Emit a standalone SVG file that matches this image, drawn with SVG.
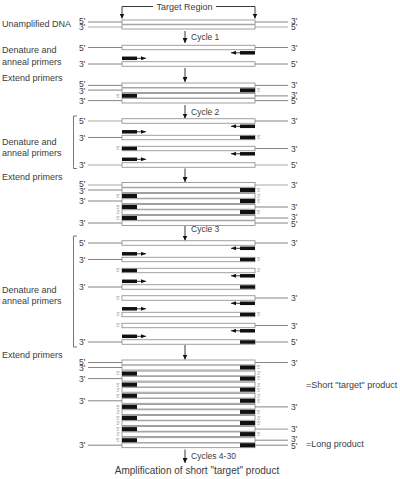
<svg xmlns="http://www.w3.org/2000/svg" width="400" height="479" viewBox="0 0 400 479">
<defs>
<style>
text{font-family:"Liberation Sans",Arial,Helvetica,sans-serif;fill:#3c3c3c}
.t{font-size:9px}
.e{font-size:8.5px}
.s{font-size:5px;fill:#999}
.c{font-size:8.5px}
.ln{stroke:#666;stroke-width:0.8}
.lg{stroke:#aaa;stroke-width:1.2}
.st{fill:#fff;stroke:#888;stroke-width:0.8}
.mid{stroke:#a5a5a5;stroke-width:1.6}
.pr{fill:#111}
.ar{stroke:#222;stroke-width:0.9;fill:none}
.br{stroke:#555;stroke-width:0.8;fill:none}
</style>
<marker id="ah" markerUnits="userSpaceOnUse" markerWidth="5" markerHeight="5" viewBox="0 0 10 10" refX="10" refY="5" orient="auto"><path d="M0,0 L10,5 L0,10 z" fill="#111"/></marker>
<marker id="ahs" markerUnits="userSpaceOnUse" markerWidth="5" markerHeight="4" viewBox="0 0 10 8" refX="10" refY="4" orient="auto"><path d="M0,0 L10,4 L0,8 z" fill="#111"/></marker>
</defs>
<rect width="400" height="479" fill="#fff"/>

<g id="target-region">
<line class="ar" x1="122" y1="6.5" x2="153" y2="6.5"/>
<line class="ar" x1="216" y1="6.5" x2="255" y2="6.5"/>
<line class="ar" x1="122" y1="6.5" x2="122" y2="18.5" marker-end="url(#ah)"/>
<line class="ar" x1="255" y1="6.5" x2="255" y2="18.5" marker-end="url(#ah)"/>
<text class="t" x="184.5" y="9.5" text-anchor="middle">Target Region</text>
</g>

<g id="unamplified-dna">
<text class="t" x="2" y="27">Unamplified DNA</text>
<line class="ln" x1="88" y1="22" x2="122" y2="22"/><line class="ln" x1="255" y1="22" x2="288" y2="22"/>
<line class="lg" x1="88" y1="27" x2="122" y2="27"/><line class="lg" x1="255" y1="27" x2="288" y2="27"/>
<rect class="st" x="122" y="20" width="133" height="9"/><line class="mid" x1="122" y1="24.5" x2="255" y2="24.5"/>
<text class="e" x="79" y="24.3">5'</text><text class="e" x="79" y="30.3">3'</text>
<text class="e" x="291" y="24.3">3'</text><text class="e" x="291" y="30.3">5'</text>
</g>

<g id="connectors">
<line class="ar" x1="185" y1="31" x2="185" y2="43" marker-end="url(#ah)"/>
<line class="ar" x1="185" y1="68" x2="185" y2="82" marker-end="url(#ah)"/>
<line class="ar" x1="185" y1="105" x2="185" y2="118.5" marker-end="url(#ah)"/>
<line class="ar" x1="185" y1="168.5" x2="185" y2="182" marker-end="url(#ah)"/>
<line class="ar" x1="185" y1="226" x2="185" y2="240.5" marker-end="url(#ah)"/>
<line class="ar" x1="185" y1="345" x2="185" y2="359.5" marker-end="url(#ah)"/>
<line class="ar" x1="185" y1="449.5" x2="185" y2="463" marker-end="url(#ah)"/>
<text class="c" x="191" y="40">Cycle 1</text>
<text class="c" x="191" y="115">Cycle 2</text>
<text class="c" x="191" y="232">Cycle 3</text>
<text class="c" x="191" y="459">Cycles 4-30</text>
</g>

<g id="cycle1-denature">
<text class="t" x="2" y="53">Denature and</text>
<text class="t" x="2" y="65">anneal primers</text>
<g id="c1-s1">
<line class="ln" x1="88" y1="47.5" x2="122" y2="47.5"/><line class="ln" x1="255" y1="47.5" x2="288" y2="47.5"/>
<rect class="st" x="122" y="45.25" width="133" height="4.5"/>
<text class="e" x="79" y="50.5">5'</text><text class="e" x="291" y="50.5">3'</text>
</g>
<g id="c1-primers">
<rect class="pr" x="240" y="51.05" width="15" height="3.5"/><line class="ar" x1="240" y1="52.8" x2="231" y2="52.8" marker-end="url(#ahs)"/>
<rect class="pr" x="122" y="56.55" width="15" height="3.5"/><line class="ar" x1="137" y1="58.3" x2="146" y2="58.3" marker-end="url(#ahs)"/>
</g>
<g id="c1-s2">
<line class="ln" x1="88" y1="64" x2="122" y2="64"/><line class="ln" x1="255" y1="64" x2="288" y2="64"/>
<rect class="st" x="122" y="61.75" width="133" height="4.5"/>
<text class="e" x="79" y="67">3'</text><text class="e" x="291" y="67">5'</text>
</g>
</g>

<g id="cycle1-extend">
<text class="t" x="2" y="80.5">Extend primers</text>
<g id="c1-d1">
<line class="ln" x1="88" y1="85.4" x2="122" y2="85.4"/><line class="ln" x1="255" y1="85.4" x2="288" y2="85.4"/>
<line class="ln" x1="88" y1="90.1" x2="122" y2="90.1"/>
<rect class="st" x="122" y="83" width="133" height="9.5"/><line class="mid" x1="122" y1="87.75" x2="255" y2="87.75"/>
<rect class="pr" x="240" y="88.4" width="15" height="3.7"/>
<text class="e" x="79" y="87.4">5'</text><text class="e" x="79" y="93.6">3'</text>
<text class="e" x="291" y="88.4">3'</text><text class="s" x="257" y="91.9">5'</text>
</g>
<g id="c1-d2">
<line class="ln" x1="255" y1="95.9" x2="288" y2="95.9"/>
<line class="ln" x1="88" y1="100.6" x2="122" y2="100.6"/><line class="ln" x1="255" y1="100.6" x2="288" y2="100.6"/>
<rect class="st" x="122" y="93.5" width="133" height="9.5"/><line class="mid" x1="122" y1="98.25" x2="255" y2="98.25"/>
<rect class="pr" x="122" y="94" width="15" height="3.7"/>
<text class="s" x="120" y="97.7" text-anchor="end">5'</text>
<text class="e" x="79" y="103.6">3'</text>
<text class="e" x="291" y="97.9">3'</text><text class="e" x="291" y="104.1">5'</text>
</g>
</g>

<g id="cycle2-denature">
<path class="br" d="M77,116 H73.5 V168.5 H77"/>
<text class="t" x="2" y="144.5">Denature and</text>
<text class="t" x="2" y="156">anneal primers</text>
<g id="c2-s1">
<line class="lg" x1="88" y1="121" x2="122" y2="121"/><line class="ln" x1="255" y1="121" x2="288" y2="121"/>
<rect class="st" x="122" y="118.75" width="133" height="4.5"/>
<text class="e" x="79" y="124">5'</text><text class="e" x="291" y="124">3'</text>
</g>
<g id="c2-p1">
<rect class="pr" x="240" y="124.55" width="15" height="3.5"/><line class="ar" x1="240" y1="126.3" x2="231" y2="126.3" marker-end="url(#ahs)"/>
<rect class="pr" x="122" y="130.05" width="15" height="3.5"/><line class="ar" x1="137" y1="131.8" x2="146" y2="131.8" marker-end="url(#ahs)"/>
</g>
<g id="c2-s2">
<line class="ln" x1="88" y1="137.5" x2="122" y2="137.5"/>
<rect class="st" x="122" y="135.25" width="133" height="4.5"/>
<rect class="pr" x="240" y="135.75" width="15" height="3.5"/>
<text class="e" x="79" y="140.5">3'</text><text class="s" x="257" y="139.3">5'</text>
</g>
<g id="c2-s3">
<line class="ln" x1="255" y1="148.5" x2="288" y2="148.5"/>
<rect class="st" x="122" y="146.25" width="133" height="4.5"/>
<rect class="pr" x="122" y="146.75" width="15" height="3.5"/>
<text class="s" x="120" y="150.3" text-anchor="end">5'</text><text class="e" x="291" y="151.5">3'</text>
</g>
<g id="c2-p2">
<rect class="pr" x="240" y="152.05" width="15" height="3.5"/><line class="ar" x1="240" y1="153.8" x2="231" y2="153.8" marker-end="url(#ahs)"/>
<rect class="pr" x="122" y="157.55" width="15" height="3.5"/><line class="ar" x1="137" y1="159.3" x2="146" y2="159.3" marker-end="url(#ahs)"/>
</g>
<g id="c2-s4">
<line class="lg" x1="88" y1="165" x2="122" y2="165"/><line class="lg" x1="255" y1="165" x2="288" y2="165"/>
<rect class="st" x="122" y="162.75" width="133" height="4.5"/>
<text class="e" x="79" y="168">3'</text><text class="e" x="291" y="168">5'</text>
</g>
</g>

<g id="cycle2-extend">
<text class="t" x="2" y="179.5">Extend primers</text>
<g id="c2-d1">
<line class="lg" x1="88" y1="185" x2="122" y2="185"/><line class="lg" x1="255" y1="185" x2="288" y2="185"/>
<line class="ln" x1="88" y1="190" x2="122" y2="190"/>
<rect class="st" x="122" y="182.5" width="133" height="10"/><line class="mid" x1="122" y1="187.5" x2="255" y2="187.5"/>
<rect class="pr" x="240" y="188" width="15" height="4"/>
<text class="e" x="79" y="187">5'</text><text class="e" x="79" y="193.5">3'</text>
<text class="e" x="291" y="188">3'</text><text class="s" x="257" y="191.8">5'</text>
</g>
<g id="c2-d2">
<line class="ln" x1="88" y1="201" x2="122" y2="201"/>
<rect class="st" x="122" y="193.5" width="133" height="10"/><line class="mid" x1="122" y1="198.5" x2="255" y2="198.5"/>
<rect class="pr" x="122" y="194" width="15" height="4"/><rect class="pr" x="240" y="199" width="15" height="4"/>
<text class="s" x="120" y="197.8" text-anchor="end">5'</text><text class="e" x="79" y="204">3'</text>
<text class="s" x="257" y="197.8">3'</text><text class="s" x="257" y="202.8">5'</text>
</g>
<g id="c2-d3">
<line class="ln" x1="255" y1="207" x2="288" y2="207"/>
<rect class="st" x="122" y="204.5" width="133" height="10"/><line class="mid" x1="122" y1="209.5" x2="255" y2="209.5"/>
<rect class="pr" x="122" y="205" width="15" height="4"/><rect class="pr" x="240" y="210" width="15" height="4"/>
<text class="s" x="120" y="208.8" text-anchor="end">5'</text><text class="s" x="120" y="213.8" text-anchor="end">3'</text>
<text class="e" x="291" y="210">3'</text><text class="s" x="257" y="213.8">5'</text>
</g>
<g id="c2-d4">
<line class="ln" x1="255" y1="218" x2="288" y2="218"/>
<line class="ln" x1="88" y1="223" x2="122" y2="223"/><line class="ln" x1="255" y1="223" x2="288" y2="223"/>
<rect class="st" x="122" y="215.5" width="133" height="10"/><line class="mid" x1="122" y1="220.5" x2="255" y2="220.5"/>
<rect class="pr" x="122" y="216" width="15" height="4"/>
<text class="s" x="120" y="219.8" text-anchor="end">5'</text><text class="e" x="79" y="226">3'</text>
<text class="e" x="291" y="220">3'</text><text class="e" x="291" y="226.5">5'</text>
</g>
</g>

<g id="cycle3-denature">
<path class="br" d="M77,236 H73.5 V347 H77"/>
<text class="t" x="2" y="292.5">Denature and</text>
<text class="t" x="2" y="304">anneal primers</text>
<g id="c3-s1">
<line class="ln" x1="88" y1="243" x2="122" y2="243"/><line class="ln" x1="255" y1="243" x2="288" y2="243"/>
<rect class="st" x="122" y="240.75" width="133" height="4.5"/>
<text class="e" x="79" y="246">5'</text><text class="e" x="291" y="246">3'</text>
</g>
<g id="c3-p1">
<rect class="pr" x="240" y="246.55" width="15" height="3.5"/><line class="ar" x1="240" y1="248.3" x2="231" y2="248.3" marker-end="url(#ahs)"/>
<rect class="pr" x="122" y="252.05" width="15" height="3.5"/><line class="ar" x1="137" y1="253.8" x2="146" y2="253.8" marker-end="url(#ahs)"/>
</g>
<g id="c3-s2">
<line class="ln" x1="88" y1="259.5" x2="122" y2="259.5"/>
<rect class="st" x="122" y="257.25" width="133" height="4.5"/>
<rect class="pr" x="240" y="257.75" width="15" height="3.5"/>
<text class="e" x="79" y="262.5">3'</text><text class="s" x="257" y="261.3">5'</text>
</g>
<g id="c3-s3">
<rect class="st" x="122" y="268.25" width="133" height="4.5"/>
<rect class="pr" x="122" y="268.75" width="15" height="3.5"/>
<text class="s" x="120" y="272.3" text-anchor="end">5'</text><text class="s" x="257" y="272.3">3'</text>
</g>
<g id="c3-p2">
<rect class="pr" x="240" y="274.05" width="15" height="3.5"/><line class="ar" x1="240" y1="275.8" x2="231" y2="275.8" marker-end="url(#ahs)"/>
<rect class="pr" x="122" y="279.55" width="15" height="3.5"/><line class="ar" x1="137" y1="281.3" x2="146" y2="281.3" marker-end="url(#ahs)"/>
</g>
<g id="c3-s4">
<line class="ln" x1="88" y1="287" x2="122" y2="287"/>
<rect class="st" x="122" y="284.75" width="133" height="4.5"/>
<rect class="pr" x="240" y="285.25" width="15" height="3.5"/>
<text class="e" x="79" y="290">3'</text>
</g>
<g id="c3-s5">
<line class="ln" x1="255" y1="298" x2="288" y2="298"/>
<rect class="st" x="122" y="295.75" width="133" height="4.5"/>
<text class="s" x="120" y="299.8" text-anchor="end">5'</text><text class="e" x="291" y="301">3'</text>
</g>
<g id="c3-p3">
<rect class="pr" x="240" y="301.55" width="15" height="3.5"/><line class="ar" x1="240" y1="303.3" x2="231" y2="303.3" marker-end="url(#ahs)"/>
<rect class="pr" x="122" y="307.05" width="15" height="3.5"/><line class="ar" x1="137" y1="308.8" x2="146" y2="308.8" marker-end="url(#ahs)"/>
</g>
<g id="c3-s6">
<rect class="st" x="122" y="312.25" width="133" height="4.5"/>
<rect class="pr" x="240" y="312.75" width="15" height="3.5"/>
<text class="s" x="120" y="316.3" text-anchor="end">3'</text><text class="s" x="257" y="316.3">5'</text>
</g>
<g id="c3-s7">
<line class="ln" x1="255" y1="325.5" x2="288" y2="325.5"/>
<rect class="st" x="122" y="323.25" width="133" height="4.5"/>
<text class="s" x="120" y="327.3" text-anchor="end">5'</text><text class="e" x="291" y="328.5">3'</text>
</g>
<g id="c3-p4">
<rect class="pr" x="240" y="329.05" width="15" height="3.5"/><line class="ar" x1="240" y1="330.8" x2="231" y2="330.8" marker-end="url(#ahs)"/>
<rect class="pr" x="122" y="334.55" width="15" height="3.5"/><line class="ar" x1="137" y1="336.3" x2="146" y2="336.3" marker-end="url(#ahs)"/>
</g>
<g id="c3-s8">
<line class="ln" x1="88" y1="342" x2="122" y2="342"/><line class="ln" x1="255" y1="342" x2="288" y2="342"/>
<rect class="st" x="122" y="339.75" width="133" height="4.5"/>
<rect class="pr" x="240" y="340.25" width="15" height="3.5"/>
<text class="e" x="79" y="345">3'</text><text class="e" x="291" y="345">5'</text>
</g>
</g>

<g id="cycle3-extend">
<text class="t" x="2" y="358">Extend primers</text>
<g id="c3-d1">
<line class="ln" x1="88" y1="362.5" x2="122" y2="362.5"/><line class="ln" x1="255" y1="362.5" x2="288" y2="362.5"/>
<line class="ln" x1="88" y1="367.5" x2="122" y2="367.5"/>
<rect class="st" x="122" y="360" width="133" height="10"/><line class="mid" x1="122" y1="365" x2="255" y2="365"/>
<rect class="pr" x="240" y="365.5" width="15" height="4"/>
<text class="e" x="79" y="364.5">5'</text><text class="e" x="79" y="371">3'</text>
<text class="e" x="291" y="365.5">3'</text><text class="s" x="257" y="369.3">5'</text>
</g>
<g id="c3-d2">
<line class="ln" x1="88" y1="378.6" x2="122" y2="378.6"/>
<rect class="st" x="122" y="371.1" width="133" height="10"/><line class="mid" x1="122" y1="376.1" x2="255" y2="376.1"/>
<rect class="pr" x="122" y="371.6" width="15" height="4"/><rect class="pr" x="240" y="376.6" width="15" height="4"/>
<text class="s" x="120" y="375.4" text-anchor="end">5'</text><text class="e" x="79" y="381.6">3'</text>
<text class="s" x="257" y="375.4">3'</text><text class="s" x="257" y="380.4">5'</text>
</g>
<g id="c3-d3">
<rect class="st" x="122" y="382.2" width="133" height="10"/><line class="mid" x1="122" y1="387.2" x2="255" y2="387.2"/>
<rect class="pr" x="122" y="382.7" width="15" height="4"/><rect class="pr" x="240" y="387.7" width="15" height="4"/>
<text class="s" x="120" y="386.5" text-anchor="end">5'</text><text class="s" x="120" y="391.5" text-anchor="end">3'</text>
<text class="s" x="257" y="386.5">3'</text><text class="s" x="257" y="391.5">5'</text>
</g>
<g id="c3-d4">
<line class="ln" x1="88" y1="400.8" x2="122" y2="400.8"/>
<rect class="st" x="122" y="393.3" width="133" height="10"/><line class="mid" x1="122" y1="398.3" x2="255" y2="398.3"/>
<rect class="pr" x="122" y="393.8" width="15" height="4"/><rect class="pr" x="240" y="398.8" width="15" height="4"/>
<text class="s" x="120" y="397.6" text-anchor="end">5'</text><text class="e" x="79" y="403.8">3'</text>
<text class="s" x="257" y="397.6">3'</text><text class="s" x="257" y="402.6">5'</text>
</g>
<g id="c3-d5">
<line class="ln" x1="255" y1="406.9" x2="288" y2="406.9"/>
<rect class="st" x="122" y="404.4" width="133" height="10"/><line class="mid" x1="122" y1="409.4" x2="255" y2="409.4"/>
<rect class="pr" x="122" y="404.9" width="15" height="4"/><rect class="pr" x="240" y="409.9" width="15" height="4"/>
<text class="s" x="120" y="408.7" text-anchor="end">5'</text><text class="s" x="120" y="413.7" text-anchor="end">3'</text>
<text class="e" x="291" y="409.9">3'</text><text class="s" x="257" y="413.7">5'</text>
</g>
<g id="c3-d6">
<rect class="st" x="122" y="415.5" width="133" height="10"/><line class="mid" x1="122" y1="420.5" x2="255" y2="420.5"/>
<rect class="pr" x="122" y="416" width="15" height="4"/><rect class="pr" x="240" y="421" width="15" height="4"/>
<text class="s" x="120" y="419.8" text-anchor="end">5'</text><text class="s" x="120" y="424.8" text-anchor="end">3'</text>
<text class="s" x="257" y="419.8">3'</text><text class="s" x="257" y="424.8">5'</text>
</g>
<g id="c3-d7">
<line class="lg" x1="255" y1="429.1" x2="288" y2="429.1"/>
<rect class="st" x="122" y="426.6" width="133" height="10"/><line class="mid" x1="122" y1="431.6" x2="255" y2="431.6"/>
<rect class="pr" x="122" y="427.1" width="15" height="4"/><rect class="pr" x="240" y="432.1" width="15" height="4"/>
<text class="s" x="120" y="430.9" text-anchor="end">5'</text><text class="s" x="120" y="435.9" text-anchor="end">3'</text>
<text class="e" x="291" y="432.1">3'</text><text class="s" x="257" y="435.9">5'</text>
</g>
<g id="c3-d8">
<line class="ln" x1="255" y1="440.2" x2="288" y2="440.2"/>
<line class="ln" x1="88" y1="445.2" x2="122" y2="445.2"/><line class="ln" x1="255" y1="445.2" x2="288" y2="445.2"/>
<rect class="st" x="122" y="437.7" width="133" height="10"/><line class="mid" x1="122" y1="442.7" x2="255" y2="442.7"/>
<rect class="pr" x="122" y="438.2" width="15" height="4"/><rect class="pr" x="240" y="443.2" width="15" height="4"/>
<text class="s" x="120" y="442" text-anchor="end">5'</text><text class="e" x="79" y="448.2">3'</text>
<text class="e" x="291" y="442.2">3'</text><text class="e" x="291" y="448.7">5'</text>
</g>
</g>

<g id="product-labels">
<text class="t" x="306" y="388">=Short "target" product</text>
<text class="t" x="306" y="446.5">=Long product</text>
<text class="t" x="197" y="474" text-anchor="middle" style="font-size:10px">Amplification of short "target" product</text>
</g>
</svg>
